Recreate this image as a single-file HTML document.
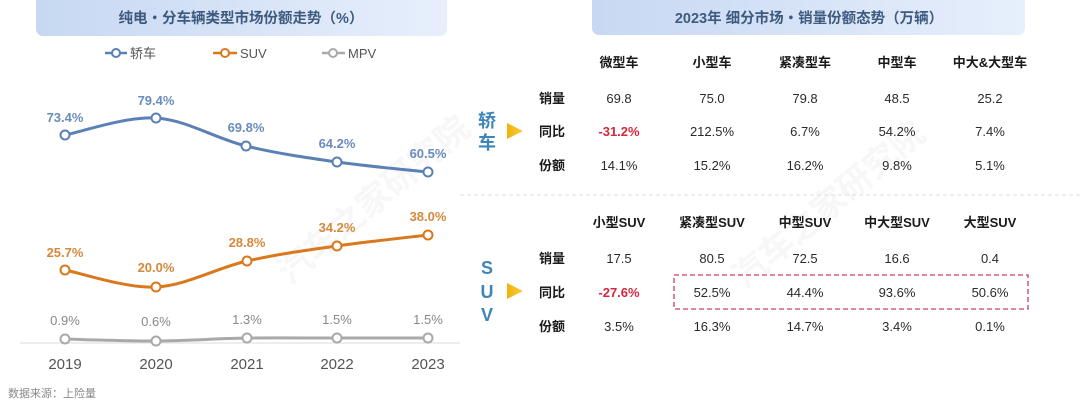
<!DOCTYPE html>
<html><head><meta charset="utf-8"><style>
html,body{margin:0;padding:0;background:#fff;}
body{width:1080px;height:406px;overflow:hidden;}
svg{display:block;font-family:"Liberation Sans","Noto Sans CJK SC",sans-serif;}
</style></head><body>
<svg width="1080" height="406" viewBox="0 0 1080 406" xmlns="http://www.w3.org/2000/svg">
<defs>
<linearGradient id="tg" x1="0" y1="0" x2="1" y2="0">
<stop offset="0" stop-color="#c7d8f2"/><stop offset="1" stop-color="#e7effc"/>
</linearGradient>
<linearGradient id="ag" x1="0" y1="0" x2="1" y2="0">
<stop offset="0" stop-color="#f2b10c"/><stop offset="1" stop-color="#f8cc3a"/>
</linearGradient>
</defs>
<rect width="1080" height="406" fill="#fff"/>
<!-- watermarks -->
<g fill="#f7f7f7" font-size="34" font-weight="bold">
<text transform="translate(290,285) rotate(-40)">汽车之家研究院</text>
<text transform="translate(745,290) rotate(-40)">汽车之家研究院</text>
</g>
<!-- title boxes -->
<rect x="36" y="-8" width="411" height="44" rx="7" fill="url(#tg)"/>
<text x="241" y="23" text-anchor="middle" font-size="14.5" font-weight="bold" fill="#3e5a7e">纯电・分车辆类型市场份额走势（%）</text>
<rect x="592" y="-8" width="433" height="43" rx="7" fill="url(#tg)"/>
<text x="809" y="23" text-anchor="middle" font-size="14.5" font-weight="bold" fill="#3e5a7e">2023年 细分市场・销量份额态势（万辆）</text>

<!-- legend -->
<g font-size="13" fill="#555">
<line x1="105" y1="53" x2="127" y2="53" stroke="#5b80b6" stroke-width="2.5"/>
<circle cx="116" cy="53" r="4" fill="#fff" stroke="#5b80b6" stroke-width="2"/>
<text x="130" y="58">轿车</text>
<line x1="213" y1="53" x2="237" y2="53" stroke="#d9781c" stroke-width="2.5"/>
<circle cx="225" cy="53" r="4" fill="#fff" stroke="#d9781c" stroke-width="2"/>
<text x="240" y="58">SUV</text>
<line x1="322" y1="53" x2="345" y2="53" stroke="#a9a9a9" stroke-width="2.5"/>
<circle cx="333" cy="53" r="4" fill="#fff" stroke="#a9a9a9" stroke-width="2"/>
<text x="348" y="58">MPV</text>
</g>

<!-- axis -->
<line x1="20" y1="343" x2="460" y2="343" stroke="#e2e2e2" stroke-width="1.2"/>
<g font-size="15" fill="#555" text-anchor="middle">
<text x="65" y="369">2019</text><text x="156" y="369">2020</text><text x="247" y="369">2021</text><text x="337" y="369">2022</text><text x="428" y="369">2023</text>
</g>

<!-- sedan -->
<path d="M65,135 C80.2,132.2 125.8,116.2 156,118 C186.2,119.8 215.8,138.7 246,146 C276.2,153.3 306.7,157.7 337,162 C367.3,166.3 412.8,170.3 428,172" fill="none" stroke="#5b80b6" stroke-width="3"/>
<g fill="#fff" stroke="#5b80b6" stroke-width="2">
<circle cx="65" cy="135" r="4.5"/><circle cx="156" cy="118" r="4.5"/><circle cx="246" cy="146" r="4.5"/><circle cx="337" cy="162" r="4.5"/><circle cx="428" cy="172" r="4.5"/>
</g>
<g font-size="13" font-weight="bold" fill="#6a8bbd" text-anchor="middle">
<text x="65" y="122">73.4%</text><text x="156" y="105">79.4%</text><text x="246" y="132">69.8%</text><text x="337" y="148">64.2%</text><text x="428" y="158">60.5%</text>
</g>

<!-- SUV -->
<path d="M65,270 C80.2,272.8 125.7,288.5 156,287 C186.3,285.5 216.8,267.8 247,261 C277.2,254.2 306.8,250.3 337,246 C367.2,241.7 412.8,236.8 428,235" fill="none" stroke="#d9781c" stroke-width="3"/>
<g fill="#fff" stroke="#d9781c" stroke-width="2">
<circle cx="65" cy="270" r="4.5"/><circle cx="156" cy="287" r="4.5"/><circle cx="247" cy="261" r="4.5"/><circle cx="337" cy="246" r="4.5"/><circle cx="428" cy="235" r="4.5"/>
</g>
<g font-size="13" font-weight="bold" fill="#d5883a" text-anchor="middle">
<text x="65" y="257">25.7%</text><text x="156" y="272">20.0%</text><text x="247" y="247">28.8%</text><text x="337" y="232">34.2%</text><text x="428" y="221">38.0%</text>
</g>

<!-- MPV -->
<path d="M65,339 C95,340 126,341 156,341 C186,341 216,338.5 247,338 C277,337.8 307,338 337,338 C367,338 398,338 428,338" fill="none" stroke="#a9a9a9" stroke-width="3"/>
<g fill="#fff" stroke="#a9a9a9" stroke-width="2">
<circle cx="65" cy="339" r="4.5"/><circle cx="156" cy="341" r="4.5"/><circle cx="247" cy="338" r="4.5"/><circle cx="337" cy="338" r="4.5"/><circle cx="428" cy="338" r="4.5"/>
</g>
<g font-size="13" fill="#888" text-anchor="middle">
<text x="65" y="325">0.9%</text><text x="156" y="326">0.6%</text><text x="247" y="324">1.3%</text><text x="337" y="324">1.5%</text><text x="428" y="324">1.5%</text>
</g>

<text x="8" y="397" font-size="11" fill="#8a8a8a">数据来源：上险量</text>

<!-- right side -->
<g font-size="18" font-weight="bold" fill="#3f86b8" text-anchor="middle">
<text x="487" y="127">轿</text><text x="487" y="149">车</text>
<text x="487" y="274">S</text><text x="487" y="298">U</text><text x="487" y="321">V</text>
</g>
<polygon points="507,123 523,131 507,139" fill="url(#ag)"/>
<polygon points="507,283 523,291 507,299" fill="url(#ag)"/>

<g font-size="13" font-weight="bold" fill="#1a1a1a" text-anchor="middle">
<text x="619" y="67">微型车</text><text x="712" y="67">小型车</text><text x="805" y="67">紧凑型车</text><text x="897" y="67">中型车</text><text x="990" y="67">中大&amp;大型车</text>
<text x="552" y="103">销量</text><text x="552" y="136">同比</text><text x="552" y="170">份额</text>
<text x="619" y="227">小型SUV</text><text x="712" y="227">紧凑型SUV</text><text x="805" y="227">中型SUV</text><text x="897" y="227">中大型SUV</text><text x="990" y="227">大型SUV</text>
<text x="552" y="263">销量</text><text x="552" y="297">同比</text><text x="552" y="331">份额</text>
</g>
<g font-size="13" fill="#2a2a2a" text-anchor="middle">
<text x="619" y="103">69.8</text><text x="712" y="103">75.0</text><text x="805" y="103">79.8</text><text x="897" y="103">48.5</text><text x="990" y="103">25.2</text>
<text x="712" y="136">212.5%</text><text x="805" y="136">6.7%</text><text x="897" y="136">54.2%</text><text x="990" y="136">7.4%</text>
<text x="619" y="170">14.1%</text><text x="712" y="170">15.2%</text><text x="805" y="170">16.2%</text><text x="897" y="170">9.8%</text><text x="990" y="170">5.1%</text>
<text x="619" y="263">17.5</text><text x="712" y="263">80.5</text><text x="805" y="263">72.5</text><text x="897" y="263">16.6</text><text x="990" y="263">0.4</text>
<text x="712" y="297">52.5%</text><text x="805" y="297">44.4%</text><text x="897" y="297">93.6%</text><text x="990" y="297">50.6%</text>
<text x="619" y="331">3.5%</text><text x="712" y="331">16.3%</text><text x="805" y="331">14.7%</text><text x="897" y="331">3.4%</text><text x="990" y="331">0.1%</text>
</g>
<g font-size="13" font-weight="bold" fill="#d2283c" text-anchor="middle">
<text x="619" y="136">-31.2%</text><text x="619" y="297">-27.6%</text>
</g>

<line x1="460" y1="195" x2="1080" y2="195" stroke="#dcdcdc" stroke-width="1" stroke-dasharray="4,3"/>
<rect x="674" y="275" width="354" height="34" fill="none" stroke="#c6405c" stroke-width="1.3" stroke-dasharray="5,3"/>
</svg>
</body></html>
